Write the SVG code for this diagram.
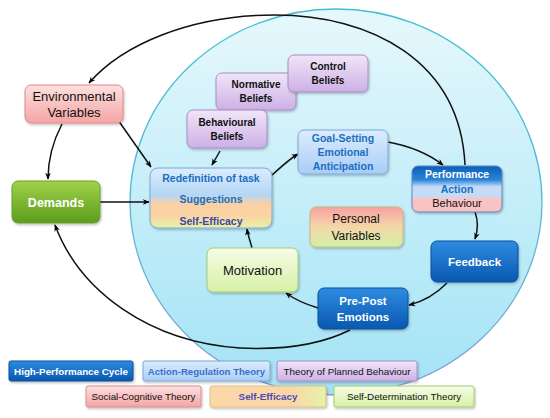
<svg xmlns="http://www.w3.org/2000/svg" width="550" height="418" viewBox="0 0 550 418">
<defs>
<linearGradient id="gCircle" x1="0" y1="0" x2="0" y2="1"><stop offset="0" stop-color="#e6f8fc"/><stop offset="1" stop-color="#a2e3f6"/></linearGradient>
<linearGradient id="gCircleS" x1="0" y1="0" x2="0" y2="1"><stop offset="0" stop-color="#3ec0cc"/><stop offset="0.6" stop-color="#5cb8d8"/><stop offset="1" stop-color="#8f9ad8"/></linearGradient>
<linearGradient id="gPink" x1="0" y1="0" x2="0" y2="1"><stop offset="0" stop-color="#fde0e0"/><stop offset="1" stop-color="#f5a4a4"/></linearGradient>
<linearGradient id="gGreen" x1="0" y1="0" x2="0" y2="1"><stop offset="0" stop-color="#9fd24a"/><stop offset="1" stop-color="#5c9c1c"/></linearGradient>
<linearGradient id="gPurple" x1="0" y1="0" x2="0" y2="1"><stop offset="0" stop-color="#f0e6f8"/><stop offset="1" stop-color="#cdb0e6"/></linearGradient>
<linearGradient id="gLBlue" x1="0" y1="0" x2="0" y2="1"><stop offset="0" stop-color="#dcecfd"/><stop offset="1" stop-color="#a9cdf5"/></linearGradient>
<linearGradient id="gDBlue" x1="0" y1="0" x2="0" y2="1"><stop offset="0" stop-color="#2e8ce0"/><stop offset="1" stop-color="#0a58b0"/></linearGradient>
<linearGradient id="gLGreen" x1="0" y1="0" x2="0" y2="1"><stop offset="0" stop-color="#f6fde6"/><stop offset="1" stop-color="#d6f0a6"/></linearGradient>
<linearGradient id="gRedef" x1="0" y1="0" x2="0" y2="1"><stop offset="0" stop-color="#dcecfd"/><stop offset="0.45" stop-color="#b4d6f6"/><stop offset="0.6" stop-color="#fbd0a4"/><stop offset="0.8" stop-color="#fad4a4"/><stop offset="1" stop-color="#e6f2a4"/></linearGradient>
<linearGradient id="gPerf" x1="0" y1="0" x2="0" y2="1"><stop offset="0" stop-color="#0a60b4"/><stop offset="0.3" stop-color="#2a84d8"/><stop offset="0.45" stop-color="#c4dcf8"/><stop offset="0.65" stop-color="#c4dcf8"/><stop offset="0.72" stop-color="#f9c4c4"/><stop offset="1" stop-color="#f9c0c0"/></linearGradient>
<linearGradient id="gPers" x1="0" y1="0" x2="0" y2="1"><stop offset="0" stop-color="#f8a0a0"/><stop offset="0.5" stop-color="#f4d8a8"/><stop offset="1" stop-color="#d2f0a6"/></linearGradient>
<linearGradient id="gSE" x1="0" y1="0" x2="1" y2="0"><stop offset="0" stop-color="#fcd8a8"/><stop offset="0.7" stop-color="#fbd6a8"/><stop offset="1" stop-color="#e4f4a8"/></linearGradient>
<filter id="sh" x="-10%" y="-10%" width="125%" height="130%"><feDropShadow dx="1" dy="1.5" stdDeviation="1" flood-color="#000" flood-opacity="0.25"/></filter>
<marker id="arr" viewBox="0 0 10 10" refX="9" refY="5" markerWidth="7" markerHeight="7" orient="auto" markerUnits="userSpaceOnUse"><path d="M0,1 L10,5 L0,9 L3,5 Z" fill="#000"/></marker>
<style>
.t{font-family:"Liberation Sans",Arial,sans-serif;text-anchor:middle}
.b{font-weight:bold}
.bl{fill:#1a6fc0}
.w{fill:#fff}
.k{fill:#111}
.c{fill:none;stroke:#111;stroke-width:1.5;marker-end:url(#arr)}
rect{filter:url(#sh)}
</style>
</defs>
<rect width="550" height="418" fill="#fff" style="filter:none"/>
<ellipse id="circle" cx="336" cy="202" rx="206" ry="193" fill="url(#gCircle)" stroke="url(#gCircleS)" stroke-width="1.3"/>

<g id="connectors">
<path class="c" d="M465,165 C460,60 370,15 275,15 C190,15 122,45 89,83"/>
<path class="c" d="M62,124 C52,143 48,160 48,179"/>
<path class="c" d="M118,120 L151,167"/>
<path class="c" d="M100,202 L149,202"/>
<path class="c" d="M220,151 L212,165"/>
<path class="c" d="M271,176 C280,168 288,160 298,154"/>
<path class="c" d="M388,142 C410,146 430,155 443,165"/>
<path class="c" d="M475,212 C478,220 478,230 475,239"/>
<path class="c" d="M447,283 C435,295 422,302 409,305"/>
<path class="c" d="M318,308 C305,304 294,299 286,293"/>
<path class="c" d="M252,248 C250,240 248,236 247,229"/>
<path class="c" d="M350,330 C320,345 280,350 240,348 C150,342 80,292 55,225"/>
</g>

<g id="env"><rect x="25" y="85" width="98" height="38" rx="6" fill="url(#gPink)" stroke="#e48888"/>
<text class="t k" x="74" y="101" font-size="13">Environmental</text><text class="t k" x="74" y="117" font-size="13">Variables</text></g>

<g id="demands"><rect x="12" y="181" width="88" height="42" rx="6" fill="url(#gGreen)" stroke="#6aa030"/>
<text class="t b w" x="56" y="207" font-size="12.5">Demands</text></g>

<g id="normative"><rect x="216" y="73" width="80" height="37" rx="6" fill="url(#gPurple)" stroke="#a88cc8"/>
<text class="t b k" x="256" y="88" font-size="10">Normative</text><text class="t b k" x="256" y="102" font-size="10">Beliefs</text></g>

<g id="control"><rect x="288" y="55" width="80" height="37" rx="6" fill="url(#gPurple)" stroke="#a88cc8"/>
<text class="t b k" x="328" y="70" font-size="10">Control</text><text class="t b k" x="328" y="84" font-size="10">Beliefs</text></g>

<g id="behavioural"><rect x="187" y="110" width="80" height="38" rx="6" fill="url(#gPurple)" stroke="#a88cc8"/>
<text class="t b k" x="227" y="126" font-size="10">Behavioural</text><text class="t b k" x="227" y="140" font-size="10">Beliefs</text></g>

<g id="redefinition"><rect x="150" y="168" width="122" height="60" rx="8" fill="url(#gRedef)" stroke="#7aa8d8"/>
<text class="t b bl" x="211" y="182" font-size="10.5">Redefinition of task</text>
<text class="t b bl" x="211" y="203" font-size="10.5">Suggestions</text>
<text class="t b" x="211" y="225" font-size="10.5" fill="#3e46a8">Self-Efficacy</text></g>

<g id="goal"><rect x="298" y="130" width="90" height="44" rx="6" fill="url(#gLBlue)" stroke="#7aa8d8"/>
<text class="t b bl" x="343" y="142" font-size="10.5">Goal-Setting</text>
<text class="t b bl" x="343" y="156" font-size="10.5">Emotional</text>
<text class="t b bl" x="343" y="170" font-size="10.5">Anticipation</text></g>

<g id="performance"><rect x="412" y="166" width="90" height="46" rx="6" fill="url(#gPerf)" stroke="#5a8ac8"/>
<text class="t b w" x="457" y="178" font-size="10.5">Performance</text>
<text class="t b bl" x="457" y="193" font-size="10.5">Action</text>
<text class="t k" x="457" y="207" font-size="11">Behaviour</text></g>

<g id="personal"><rect x="310" y="207" width="93" height="40" rx="6" fill="url(#gPers)" stroke="#c8b880"/>
<text class="t k" x="356" y="223" font-size="12">Personal</text><text class="t k" x="356" y="240" font-size="12">Variables</text></g>

<g id="feedback"><rect x="431" y="241" width="87" height="41" rx="6" fill="url(#gDBlue)" stroke="#0a4e9c"/>
<text class="t b w" x="474.5" y="266" font-size="11.5">Feedback</text></g>

<g id="prepost"><rect x="318" y="288" width="90" height="41" rx="6" fill="url(#gDBlue)" stroke="#0a4e9c"/>
<text class="t b w" x="363" y="305" font-size="11.5">Pre-Post</text><text class="t b w" x="363" y="321" font-size="11.5">Emotions</text></g>

<g id="motivation"><rect x="207" y="248" width="91" height="44" rx="6" fill="url(#gLGreen)" stroke="#a6cc72"/>
<text class="t k" x="252.5" y="275" font-size="13">Motivation</text></g>

<g id="legend">
<g id="lg-hpc"><rect x="9" y="361" width="124" height="20" rx="2" fill="url(#gDBlue)" stroke="#0a4e9c"/><text class="t b w" x="71" y="375" font-size="9.8">High-Performance Cycle</text></g>
<g id="lg-art"><rect x="143" y="361" width="127" height="20" rx="2" fill="url(#gLBlue)" stroke="#7aa8d8"/><text class="t b" x="206.5" y="375" font-size="9.6" fill="#3a70c8">Action-Regulation Theory</text></g>
<g id="lg-tpb"><rect x="277" y="361" width="140" height="20" rx="2" fill="url(#gPurple)" stroke="#a88cc8"/><text class="t k" x="347" y="375" font-size="9.8">Theory of Planned Behaviour</text></g>
<g id="lg-sct"><rect x="86" y="386" width="115" height="21" rx="2" fill="url(#gPink)" stroke="#d89090"/><text class="t k" x="143.5" y="400" font-size="9.8">Social-Cognitive Theory</text></g>
<g id="lg-se"><rect x="210" y="386" width="116" height="21" rx="2" fill="url(#gSE)" stroke="#e0c080"/><text class="t b" x="268" y="400" font-size="9.8" fill="#4a4cb0">Self-Efficacy</text></g>
<g id="lg-sdt"><rect x="334" y="386" width="140" height="21" rx="2" fill="url(#gLGreen)" stroke="#a6cc72"/><text class="t k" x="404" y="400" font-size="9.8">Self-Determination Theory</text></g>
</g>
</svg>
